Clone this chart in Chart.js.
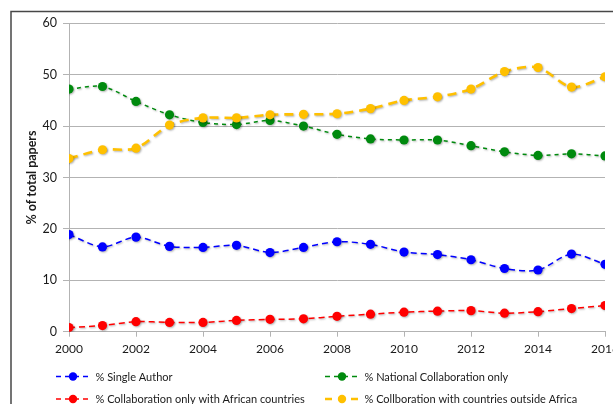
<!DOCTYPE html>
<html>
<head>
<meta charset="utf-8">
<script src="https://cdn.jsdelivr.net/npm/chart.js@4.4.1/dist/chart.umd.min.js"></script>
<style>
  html, body { margin: 0; padding: 0; background: #ffffff; }
  #wrap { width: 613px; height: 404px; position: relative; }
</style>
</head>
<body>
<div id="wrap"><canvas id="chart" width="613" height="404"></canvas></div>
<script>
// Publication years
const years = [2000, 2001, 2002, 2003, 2004, 2005, 2006, 2007, 2008,
               2009, 2010, 2011, 2012, 2013, 2014, 2015, 2016];

// Share of total papers (%) per authorship type
const singleAuthor      = [18.9, 16.5, 18.4, 16.6, 16.4, 16.8, 15.4, 16.4, 17.5,
                           17.0, 15.5, 15.0, 14.0, 12.3, 12.0, 15.1, 13.1];
const nationalOnly      = [47.2, 47.7, 44.8, 42.2, 40.7, 40.3, 41.1, 40.0, 38.4,
                           37.5, 37.3, 37.3, 36.2, 35.0, 34.3, 34.6, 34.2];
const africanOnly       = [0.8, 1.2, 1.95, 1.8, 1.8, 2.2, 2.4, 2.5, 3.0,
                           3.4, 3.8, 4.0, 4.1, 3.6, 3.9, 4.5, 5.1];
const outsideAfrica     = [33.7, 35.4, 35.7, 40.2, 41.6, 41.6, 42.2, 42.3, 42.4,
                           43.4, 45.0, 45.7, 47.2, 50.6, 51.4, 47.6, 49.6];

const seriesNames = [
  '% Single Author',
  '% National Collaboration only',
  '% Collaboration only with African countries',
  '% Collboration with countries outside Africa'
];
const seriesColors = ['#0000ff', '#008a0e', '#ff0000', '#ffc000'];
const seriesValues = [singleAuthor, nationalOnly, africanOnly, outsideAfrica];

const yAxisTitle = '% of total papers';

const FONT = 'Lato, "Open Sans", sans-serif';

const lineStyles = [
  { width: 1.5, dash: [6, 4] },
  { width: 1.5, dash: [4, 4] },
  { width: 1.5, dash: [6, 4] },
  { width: 2.6, dash: [9, 6] }
];

const datasets = seriesValues.map((vals, i) => ({
  label: seriesNames[i],
  data: years.map((yr, k) => ({ x: yr, y: vals[k] })),
  borderColor: seriesColors[i],
  backgroundColor: seriesColors[i],
  pointBackgroundColor: seriesColors[i],
  pointBorderWidth: 0,
  pointRadius: 4.6,
  borderWidth: lineStyles[i].width,
  borderDash: lineStyles[i].dash,
  tension: 0.3,
  fill: false,
  order: seriesValues.length - i
}));

// Soft drop shadow under the series
const shadowPlugin = {
  id: 'seriesShadow',
  beforeDatasetsDraw(chart) {
    const ctx = chart.ctx;
    ctx.save();
    ctx.shadowColor = 'rgba(0,0,0,0.30)';
    ctx.shadowBlur = 2;
    ctx.shadowOffsetX = 1;
    ctx.shadowOffsetY = 1;
  },
  afterDatasetsDraw(chart) {
    chart.ctx.restore();
  }
};

// Outer frame (top and left edges)
const framePlugin = {
  id: 'frame',
  beforeDraw(chart) {
    const ctx = chart.ctx;
    ctx.save();
    ctx.strokeStyle = '#474747';
    ctx.lineWidth = 1.5;
    ctx.beginPath();
    ctx.moveTo(11, chart.height);
    ctx.lineTo(11, 11.5);
    ctx.lineTo(chart.width, 11.5);
    ctx.stroke();
    ctx.restore();
  }
};

// Two-column legend below the axis
const legendPlugin = {
  id: 'gridLegend',
  afterDraw(chart) {
    const ctx = chart.ctx;
    const colX = [56, 325];
    const rowY = [376.5, 399];
    ctx.save();
    ctx.font = '11px ' + FONT;
    ctx.textBaseline = 'middle';
    ctx.textAlign = 'left';
    seriesNames.forEach((name, i) => {
      const x0 = colX[i % 2];
      const y = rowY[Math.floor(i / 2)];
      const st = lineStyles[i];
      ctx.strokeStyle = seriesColors[i];
      ctx.lineWidth = st.width;
      ctx.setLineDash(i === 3 ? [7, 6] : [5, 4]);
      ctx.beginPath();
      ctx.moveTo(x0, y);
      ctx.lineTo(x0 + 35, y);
      ctx.stroke();
      ctx.setLineDash([]);
      ctx.fillStyle = seriesColors[i];
      ctx.beginPath();
      ctx.arc(x0 + 17, y, 4.2, 0, Math.PI * 2);
      ctx.fill();
      ctx.fillStyle = '#1a1a1a';
      ctx.fillText(name, x0 + 39.5, y + 0.5);
    });
    ctx.restore();
  }
};

new Chart(document.getElementById('chart'), {
  type: 'line',
  data: { datasets },
  plugins: [framePlugin, shadowPlugin, legendPlugin],
  options: {
    responsive: false,
    animation: false,
    devicePixelRatio: 1,
    layout: { padding: { top: 23.3, right: 8, bottom: 0, left: 0 } },
    plugins: {
      legend: { display: false },
      tooltip: { enabled: false }
    },
    scales: {
      x: {
        type: 'linear',
        min: 2000,
        max: 2016,
        ticks: {
          stepSize: 2,
          padding: 5,
          color: '#1a1a1a',
          font: { family: FONT, size: 12 },
          maxRotation: 0,
          autoSkip: false,
          callback: v => String(v)
        },
        grid: {
          display: true,
          drawOnChartArea: false,
          drawTicks: true,
          tickLength: 5,
          color: '#b3b3b3'
        },
        border: { display: true, color: '#b3b3b3', width: 1 },
        afterFit(scale) {
          scale.height = 72.3;
          scale.paddingLeft = 0;
          scale.paddingRight = 0;
        }
      },
      y: {
        min: 0,
        max: 60,
        ticks: {
          stepSize: 10,
          padding: 6,
          color: '#1a1a1a',
          font: { family: FONT, size: 12.5 }
        },
        grid: {
          color: '#b3b3b3',
          drawTicks: true,
          tickLength: 6
        },
        border: { display: true, color: '#b3b3b3', width: 1 },
        title: {
          display: true,
          text: yAxisTitle,
          color: '#1a1a1a',
          font: { family: FONT, size: 12.5, weight: 'bold' },
          padding: { top: 24.5, bottom: 0 }
        },
        afterFit(scale) {
          scale.width = 69;
        }
      }
    }
  }
});
</script>
</body>
</html>
